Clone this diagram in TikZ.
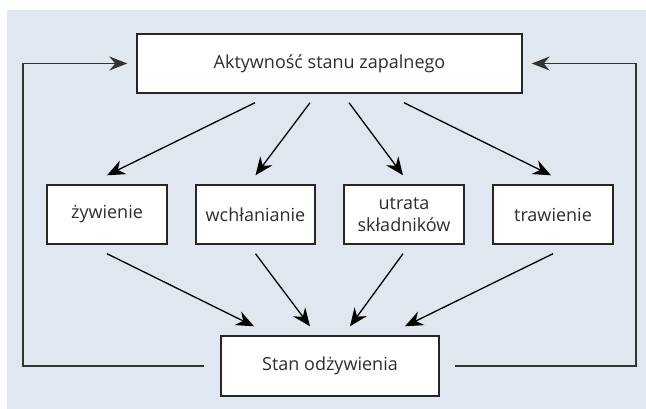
\documentclass[tikz,border=0pt]{standalone}
\usepackage{fontspec}
\setmainfont{Open Sans}
\usetikzlibrary{arrows.meta,calc}
\definecolor{bgc}{RGB}{224,231,240}
\definecolor{txt}{RGB}{45,45,45}
\begin{document}
\begin{tikzpicture}[x=1pt,y=-1pt,
  box/.style={draw=black!85, line width=1.4pt, fill=white, minimum width=#1, minimum height=59pt, inner sep=0pt, align=center, text=txt, font=\fontsize{18}{22}\selectfont},
  arr/.style={line width=1.3pt, draw=black, -{Stealth[length=18pt,width=15pt,inset=6pt]}},
  fb/.style={line width=1.3pt, draw=black!80, -{Stealth[length=18pt,width=14pt,inset=6pt]}}]
\useasboundingbox (0,0) rectangle (646,409);
\fill[bgc] (7,10) rectangle (646,409);
\node[box=385pt] (top) at (329.5,63.5) {Aktywność stanu zapalnego};
\node[box=120pt] (zy) at (107,214.5) {żywienie};
\node[box=119pt] (wc) at (255.5,214.5) {wchłanianie};
\node[box=120pt] (ut) at (404,214.5) {utrata\\składników};
\node[box=120pt] (tr) at (553,214.5) {trawienie};
\node[box=218pt, minimum height=60pt] (bot) at (330,366) {Stan odżywienia};
% top arrows
\coordinate (s1) at ($(top.south)+(-74.5,9)$);
\coordinate (s2) at ($(top.south)+(-19.5,9)$);
\coordinate (s3) at ($(top.south)+(19.5,9)$);
\coordinate (s4) at ($(top.south)+(74.5,9)$);
\coordinate (e1) at ($(zy.north)+(0,-9)$);
\coordinate (e2) at ($(wc.north)+(0,-9)$);
\coordinate (e3) at ($(ut.north)+(-1,-9)$);
\coordinate (e4) at ($(tr.north)+(-2,-9)$);
\draw[arr] (s1) -- (e1);
\draw[arr] (s2) -- (e2);
\draw[arr] (s3) -- (e3);
\draw[arr] (s4) -- (e4);
% bottom arrows
\coordinate (f1) at ($(zy.south)+(0,9)$);
\coordinate (f2) at ($(wc.south)+(0,9)$);
\coordinate (f3) at ($(ut.south)+(-1,9)$);
\coordinate (f4) at ($(tr.south)+(0,9)$);
\coordinate (g1) at ($(bot.north)+(-76,-9)$);
\coordinate (g2) at ($(bot.north)+(-20,-9)$);
\coordinate (g3) at ($(bot.north)+(20,-9)$);
\coordinate (g4) at ($(bot.north)+(75,-9)$);
\draw[arr] (f1) -- (g1);
\draw[arr] (f2) -- (g2);
\draw[arr] (f3) -- (g3);
\draw[arr] (f4) -- (g4);
% feedback loops
\coordinate (fl) at (23,63.5);
\coordinate (fr) at (636,63.5);
\draw[fb, shorten <=16pt, shorten >=9pt] (bot.west) -| (fl) |- (top.west);
\draw[fb, shorten <=15pt, shorten >=9pt] (bot.east) -| (fr) |- (top.east);
\end{tikzpicture}
\end{document}
